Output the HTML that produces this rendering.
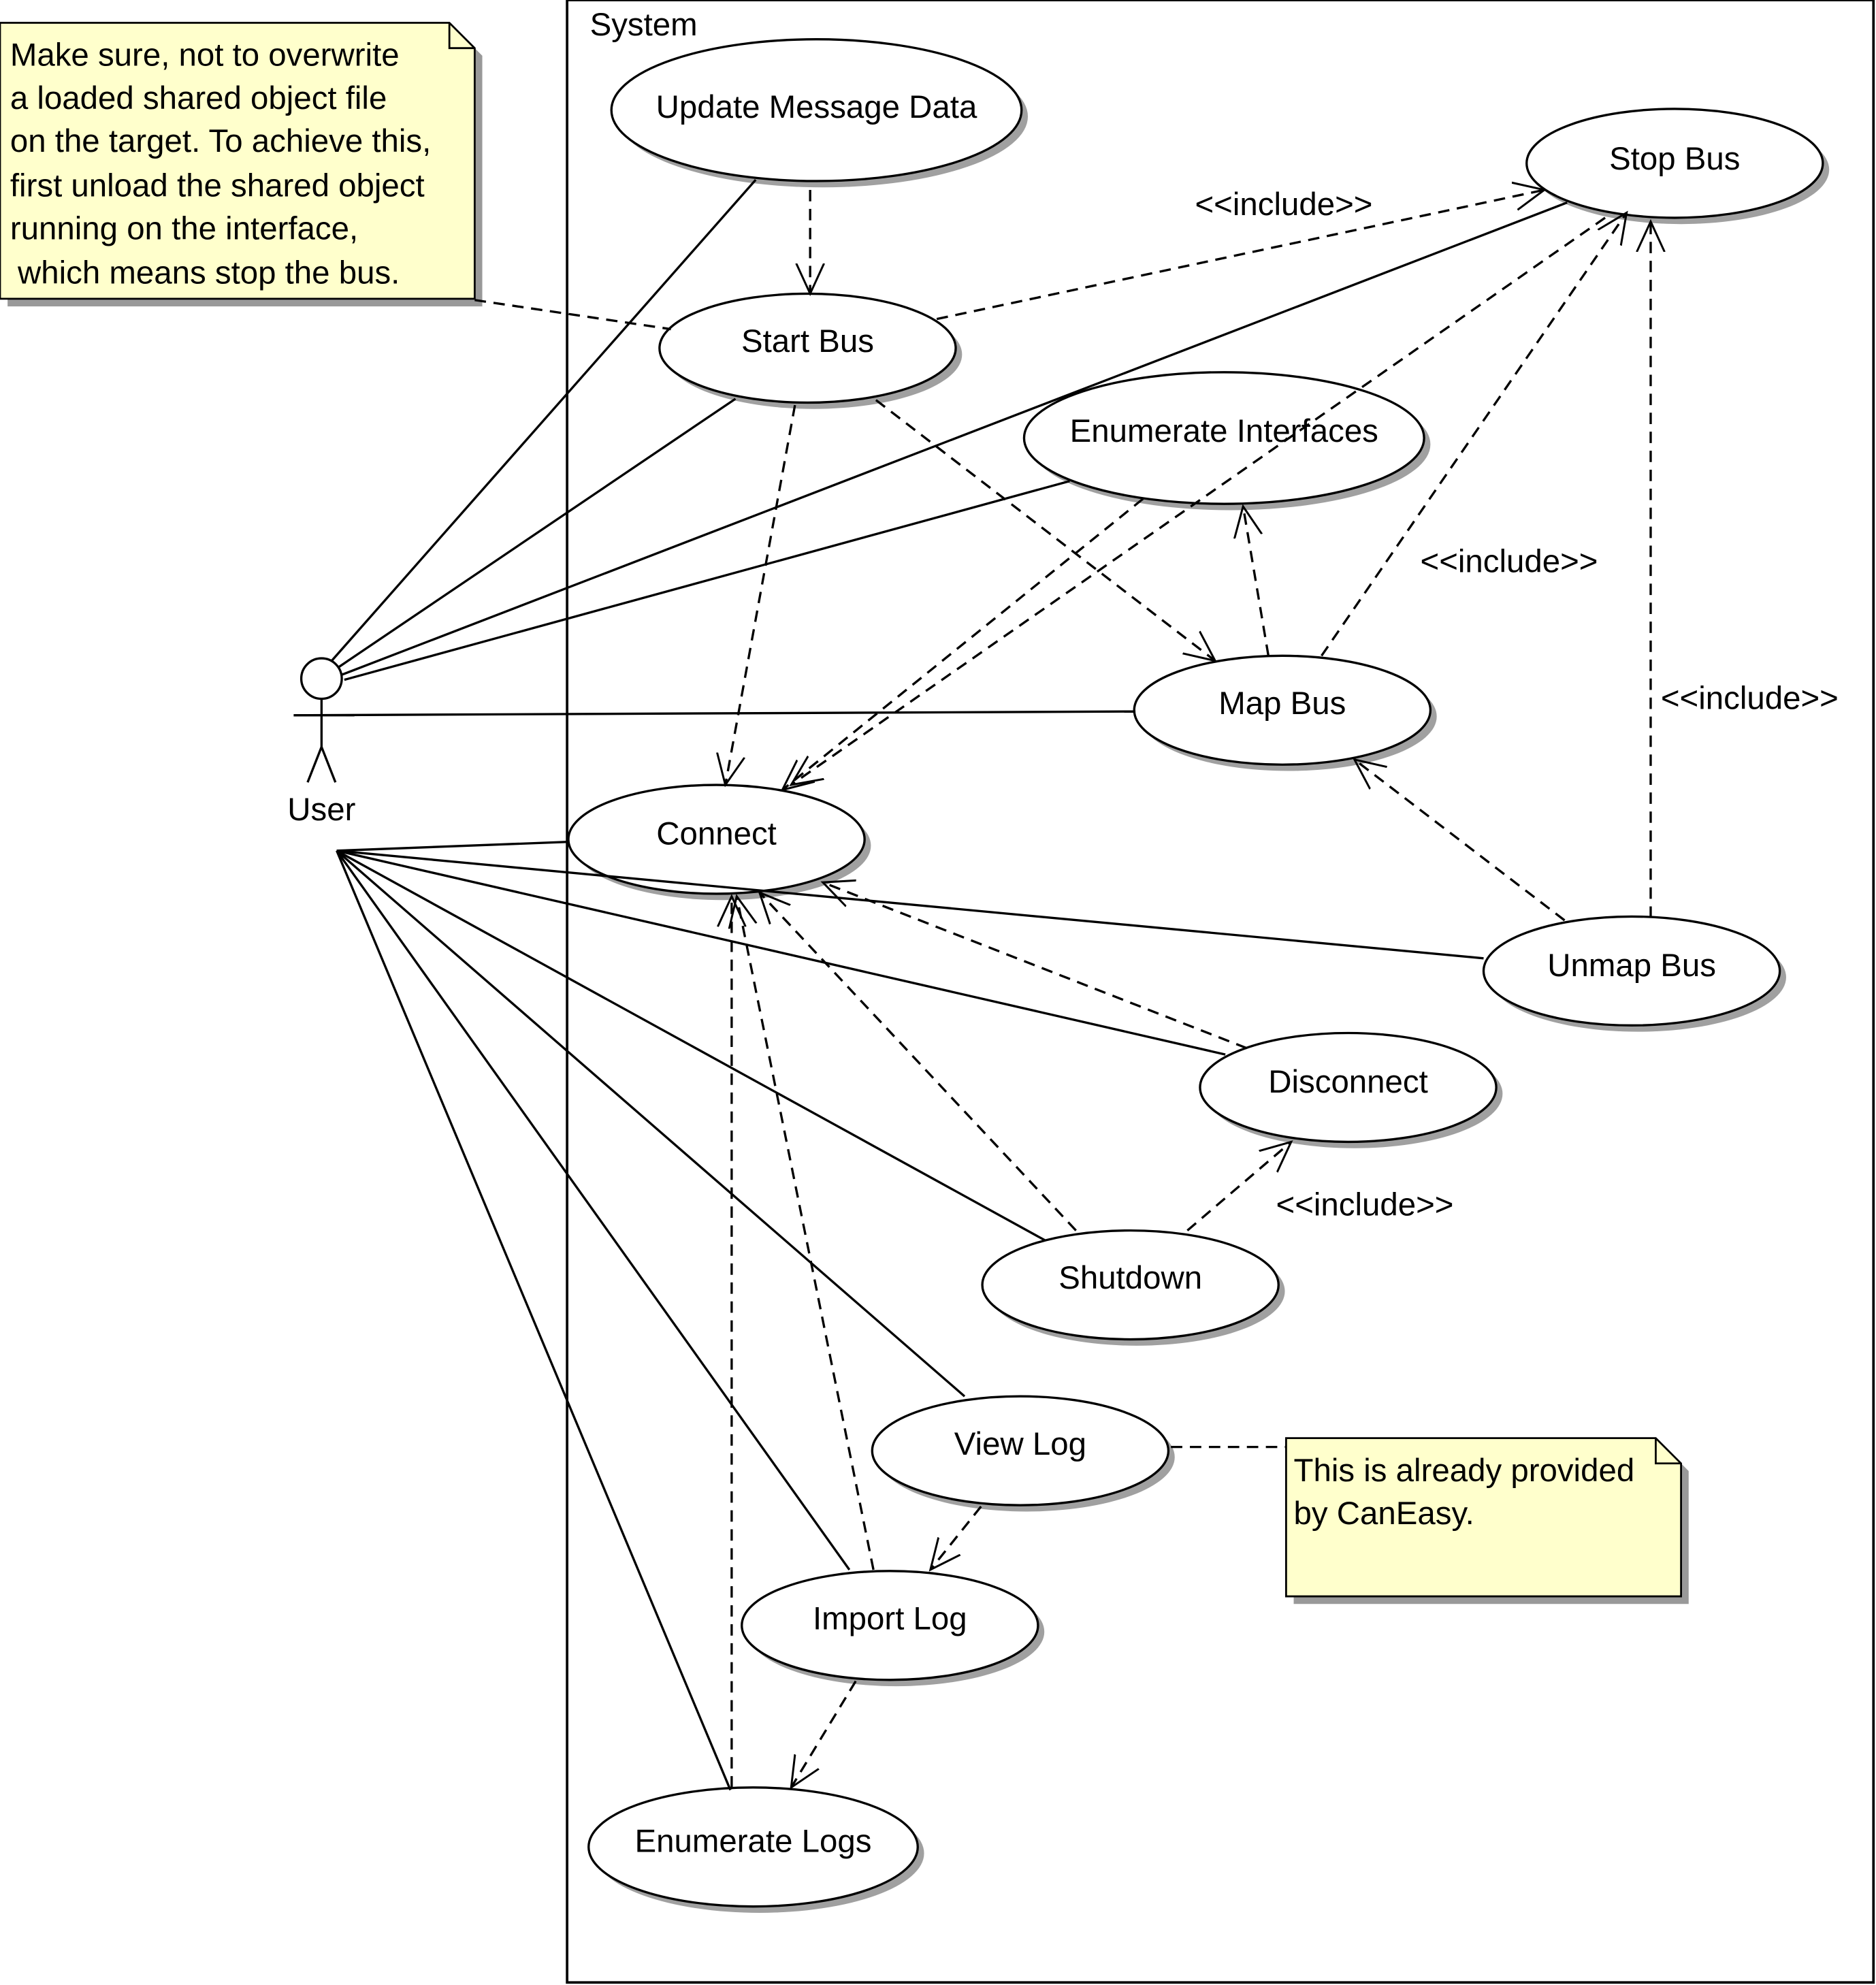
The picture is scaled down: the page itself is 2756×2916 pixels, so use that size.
<!DOCTYPE html>
<html><head><meta charset="utf-8"><style>
html,body{margin:0;padding:0;background:#fff}
svg{display:block}
text{font-family:"Liberation Sans",sans-serif;font-size:25.5px;fill:#000}
</style></head><body>
<svg width="2756" height="2916" viewBox="0 0 1482 1568" xmlns="http://www.w3.org/2000/svg">
<defs>
<marker id="a" markerUnits="userSpaceOnUse" markerWidth="30" markerHeight="30" refX="24" refY="12" orient="auto" viewBox="0 0 30 24">
<polyline points="0,1 24,12 0,23" fill="none" stroke="#000" stroke-width="1.6"/>
</marker>
</defs>
<rect x="0" y="0" width="1482" height="1568" fill="#fff"/>
<rect x="448" y="0" width="1032" height="1566" fill="none" stroke="#000" stroke-width="2"/>
<text x="466" y="28">System</text>

<!-- notes -->
<polygon points="6,24 361,24 381,44 381,242 6,242" fill="#999"/>
<polygon points="0,18 355,18 375,38 375,236 0,236" fill="#ffffcc" stroke="#000" stroke-width="1.5"/>
<polyline points="355,18 355,38 375,38" fill="none" stroke="#000" stroke-width="1.5"/>
<text x="8" y="52">Make sure, not to overwrite</text>
<text x="8" y="86">a loaded shared object file</text>
<text x="8" y="120">on the target. To achieve this,</text>
<text x="8" y="155">first unload the shared object</text>
<text x="8" y="189">running on the interface,</text>
<text x="14" y="224">which means stop the bus.</text>

<polygon points="1022,1142 1314,1142 1334,1162 1334,1267 1022,1267" fill="#999"/>
<polygon points="1016,1136 1308,1136 1328,1156 1328,1261 1016,1261" fill="#ffffcc" stroke="#000" stroke-width="1.5"/>
<polyline points="1308,1136 1308,1156 1328,1156" fill="none" stroke="#000" stroke-width="1.5"/>
<text x="1022" y="1170">This is already provided</text>
<text x="1022" y="1204">by CanEasy.</text>

<!-- ellipses -->
<g fill="#a0a0a0" stroke="none">
<ellipse cx="650" cy="92" rx="162" ry="56"/>
<ellipse cx="1328" cy="134" rx="117" ry="43"/>
<ellipse cx="643" cy="280" rx="117" ry="43"/>
<ellipse cx="972" cy="351" rx="158" ry="52"/>
<ellipse cx="1018" cy="566" rx="117" ry="43"/>
<ellipse cx="571" cy="668" rx="117" ry="43"/>
<ellipse cx="1294" cy="772" rx="117" ry="43"/>
<ellipse cx="1070" cy="864" rx="117" ry="43"/>
<ellipse cx="898" cy="1020" rx="117" ry="43"/>
<ellipse cx="811" cy="1151" rx="117" ry="43"/>
<ellipse cx="708" cy="1289" rx="117" ry="43"/>
<ellipse cx="600" cy="1464" rx="130" ry="47"/>
</g>
<g fill="#fff" stroke="#000" stroke-width="1.8">
<ellipse cx="645" cy="87" rx="162" ry="56"/>
<ellipse cx="1323" cy="129" rx="117" ry="43"/>
<ellipse cx="638" cy="275" rx="117" ry="43"/>
<ellipse cx="967" cy="346" rx="158" ry="52"/>
<ellipse cx="1013" cy="561" rx="117" ry="43"/>
<ellipse cx="566" cy="663" rx="117" ry="43"/>
<ellipse cx="1289" cy="767" rx="117" ry="43"/>
<ellipse cx="1065" cy="859" rx="117" ry="43"/>
<ellipse cx="893" cy="1015" rx="117" ry="43"/>
<ellipse cx="806" cy="1146" rx="117" ry="43"/>
<ellipse cx="703" cy="1284" rx="117" ry="43"/>
<ellipse cx="595" cy="1459" rx="130" ry="47"/>
</g>

<!-- solid lines -->
<g stroke="#000" stroke-width="1.8" fill="none">
<line x1="262" y1="522" x2="597" y2="142"/>
<line x1="266" y1="528" x2="581" y2="315"/>
<line x1="270" y1="533" x2="1238" y2="160"/>
<line x1="272" y1="537" x2="845" y2="380"/>
<line x1="232" y1="565" x2="897" y2="562"/>
<line x1="266" y1="672" x2="449" y2="665"/>
<line x1="266" y1="672" x2="1172" y2="757"/>
<line x1="266" y1="672" x2="968" y2="833"/>
<line x1="266" y1="672" x2="826" y2="980"/>
<line x1="266" y1="672" x2="762" y2="1103"/>
<line x1="266" y1="672" x2="671" y2="1240"/>
<line x1="266" y1="672" x2="577" y2="1414"/>
</g>

<!-- dashed -->
<g stroke="#000" stroke-width="1.8" fill="none" stroke-dasharray="9,6">
<line x1="640" y1="150" x2="640" y2="232" marker-end="url(#a)"/>
<line x1="740" y1="252" x2="1220" y2="150" marker-end="url(#a)"/>
<line x1="628" y1="320" x2="573" y2="620" marker-end="url(#a)"/>
<line x1="692" y1="316" x2="960" y2="522" marker-end="url(#a)"/>
<line x1="903" y1="394" x2="618" y2="624" marker-end="url(#a)"/>
<line x1="1268" y1="172" x2="625" y2="620" marker-end="url(#a)"/>
<line x1="1002" y1="518" x2="982" y2="400" marker-end="url(#a)"/>
<line x1="1044" y1="518" x2="1285" y2="168" marker-end="url(#a)"/>
<line x1="1304" y1="725" x2="1304" y2="175" marker-end="url(#a)"/>
<line x1="1236" y1="727" x2="1070" y2="600" marker-end="url(#a)"/>
<line x1="985" y1="828" x2="650" y2="697" marker-end="url(#a)"/>
<line x1="850" y1="972" x2="600" y2="705" marker-end="url(#a)"/>
<line x1="938" y1="972" x2="1020" y2="902" marker-end="url(#a)"/>
<line x1="690" y1="1240" x2="582" y2="708" marker-end="url(#a)"/>
<line x1="578" y1="1412" x2="578" y2="708" marker-end="url(#a)"/>
<line x1="775" y1="1190" x2="735" y2="1240" marker-end="url(#a)"/>
<line x1="676" y1="1328" x2="625" y2="1412" marker-end="url(#a)"/>
<line x1="925" y1="1143" x2="1016" y2="1143"/>
<line x1="375" y1="237" x2="530" y2="260"/>
</g>
<text x="944" y="170">&lt;&lt;include&gt;&gt;</text>
<text x="1122" y="452">&lt;&lt;include&gt;&gt;</text>
<text x="1312" y="560">&lt;&lt;include&gt;&gt;</text>
<text x="1008" y="960">&lt;&lt;include&gt;&gt;</text>

<g text-anchor="middle">
<text x="645" y="93">Update Message Data</text>
<text x="1323" y="134">Stop Bus</text>
<text x="638" y="278">Start Bus</text>
<text x="967" y="349">Enumerate Interfaces</text>
<text x="1013" y="564">Map Bus</text>
<text x="566" y="667">Connect</text>
<text x="1289" y="771">Unmap Bus</text>
<text x="1065" y="863">Disconnect</text>
<text x="893" y="1018">Shutdown</text>
<text x="806" y="1149">View Log</text>
<text x="703" y="1287">Import Log</text>
<text x="595" y="1463">Enumerate Logs</text>
<text x="254" y="648">User</text>
</g>

<!-- actor -->
<g stroke="#000" stroke-width="1.8" fill="#fff">
<circle cx="254" cy="536" r="16"/>
<line x1="254" y1="552" x2="254" y2="590"/>
<line x1="232" y1="565" x2="280" y2="565"/>
<polyline points="243,618 254,590 265,618" fill="none"/>
</g>
</svg>
</body></html>
